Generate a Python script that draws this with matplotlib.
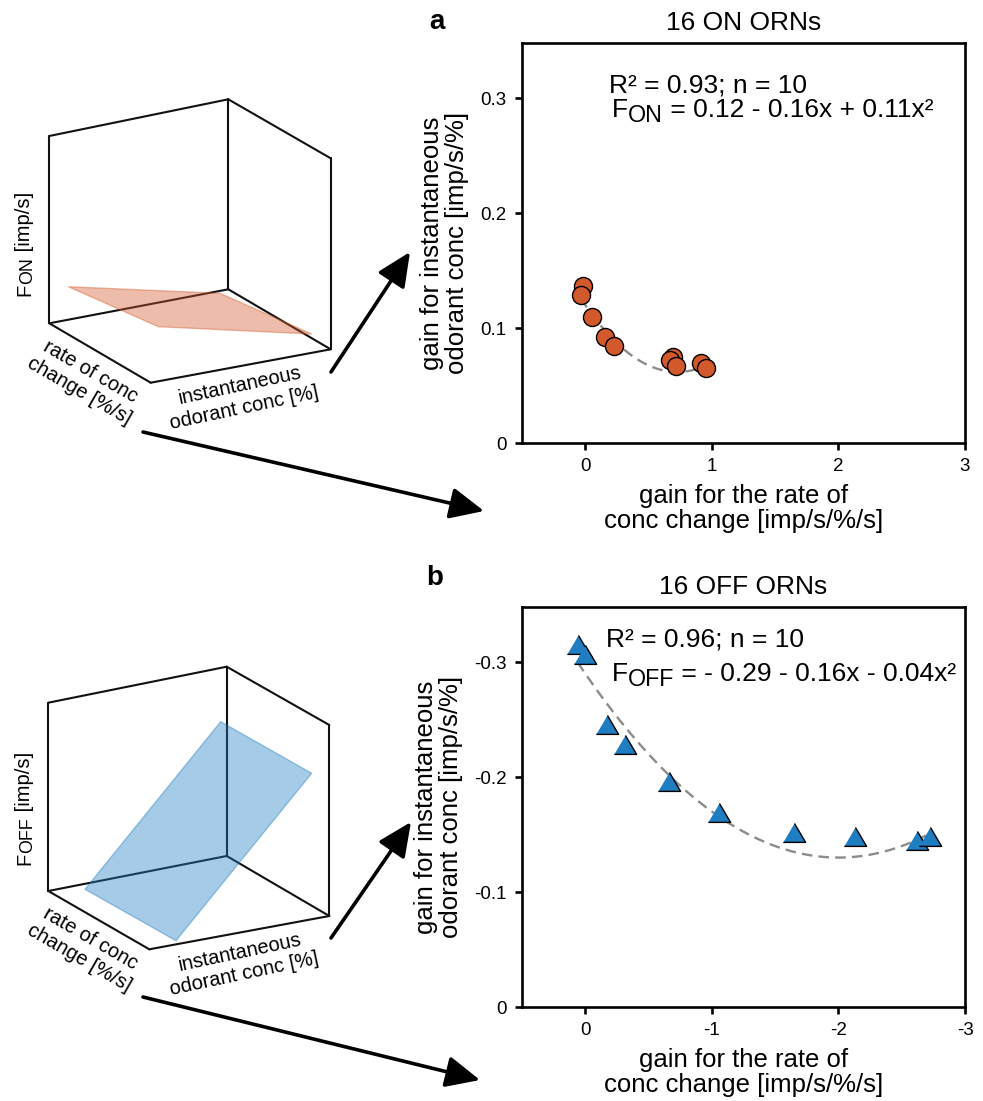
import numpy as np
import matplotlib
matplotlib.use("Agg")
import matplotlib.pyplot as plt
from matplotlib.patches import Polygon
from matplotlib.ticker import FixedLocator, FuncFormatter

plt.rcParams['font.family'] = ['Liberation Sans', 'DejaVu Sans']
plt.rcParams['axes.unicode_minus'] = False

# ---------------- data ----------------
on_x = [-0.02, -0.035, 0.053, 0.156, 0.228, 0.693, 0.672, 0.72, 0.918, 0.95]
on_y = [0.137, 0.129, 0.110, 0.092, 0.084, 0.075, 0.072, 0.067, 0.070, 0.065]
on_coef = [0.12, -0.16, 0.11]          # F_ON = c0 + c1 x + c2 x^2

off_x = [0.06, 0.0, -0.175, -0.31, -0.66, -1.06, -1.65, -2.13, -2.62, -2.72]
off_y = [-0.315, -0.306, -0.245, -0.228, -0.196, -0.169, -0.151, -0.148, -0.144, -0.148]
off_coef = [-0.29, -0.16, -0.04]       # F_OFF = c0 + c1 x + c2 x^2

on_ticks_x = [0, 1, 2, 3]
on_ticks_y = [0, 0.1, 0.2, 0.3]
off_ticks_x = [0, -1, -2, -3]
off_ticks_y = [0, -0.1, -0.2, -0.3]

# schematic 3D boxes (pixel coordinates of the illustration)
box_top = dict(fl_top=(49.3, 136), back_top=(228.3, 99.3), right_top=(330.7, 158.3),
               fl_bot=(49.3, 323.3), back_bot=(228.3, 289.3), right_bot=(330.7, 349.3),
               front_bot=(150.7, 382.7))
plane_top = [(68.3, 286.7), (220, 293.3), (311.7, 334), (158.3, 326.7)]
box_bot = dict(fl_top=(48.3, 702.7), back_top=(226.7, 666.7), right_top=(329.3, 725),
               fl_bot=(48.3, 891), back_bot=(226.7, 856), right_bot=(329.3, 916),
               front_bot=(149.3, 949.3))
plane_bot = [(85, 889.3), (220.7, 721.7), (311.7, 773.3), (176, 940.7)]

W, H = 983, 1101
ORANGE = '#D2592B'
BLUE = '#1F7DC2'

fig = plt.figure(figsize=(W / 100, H / 100), dpi=100)

# overlay for schematic, arrows and free text (pixel coordinates)
ov = fig.add_axes([0, 0, 1, 1])
ov.set_xlim(0, W)
ov.set_ylim(H, 0)
ov.axis('off')


def draw_box(b, plane, fc, ec):
    edges = [('fl_top', 'back_top'), ('back_top', 'right_top'),
             ('fl_top', 'fl_bot'), ('back_top', 'back_bot'), ('right_top', 'right_bot'),
             ('fl_bot', 'back_bot'), ('back_bot', 'right_bot'),
             ('fl_bot', 'front_bot'), ('front_bot', 'right_bot')]
    for a, c in edges:
        ov.plot([b[a][0], b[c][0]], [b[a][1], b[c][1]], color='#111111', lw=1.5,
                solid_capstyle='round', zorder=1)
    ov.add_patch(Polygon(plane, closed=True, facecolor=fc, edgecolor=ec, lw=1.0,
                         alpha=0.40, zorder=2))


draw_box(box_top, plane_top, ORANGE, ORANGE)
draw_box(box_bot, plane_bot, BLUE, BLUE)

LFS = 14.5


def vlabel(x, y_bottom, sub):
    t0 = ov.text(x, y_bottom, 'F', rotation=90, ha='center', va='bottom', fontsize=LFS)
    t1 = ov.annotate(sub, xy=(0.5, 1), xycoords=t0, xytext=(3, 0),
                     textcoords='offset pixels', rotation=90, ha='center', va='bottom',
                     fontsize=LFS * 0.88)
    ov.annotate(' [imp/s]', xy=(0.5, 1), xycoords=t1, xytext=(-3, 0),
                textcoords='offset pixels', rotation=90, ha='center', va='bottom',
                fontsize=LFS)


vlabel(25, 296, 'ON')
vlabel(25, 865, 'OFF')

for dy in [0, 566.6]:
    ov.text(85, 381.4 + dy, 'rate of conc\nchange [%/s]', rotation=-30,
            ha='center', va='center', fontsize=LFS, rotation_mode='anchor',
            multialignment='center')
    ov.text(241.7, 396.7 + dy, 'instantaneous\nodorant conc [%]', rotation=12,
            ha='center', va='center', fontsize=LFS, rotation_mode='anchor',
            multialignment='center')

arrow_kw = dict(arrowstyle='-|>,head_length=1.3,head_width=0.6', lw=2.6,
                color='black', mutation_scale=16, shrinkA=0, shrinkB=0)
for (x0, y0, x1, y1) in [(331, 372, 410, 252), (143, 432, 484, 511),
                         (331, 938, 411, 822), (143, 997, 480, 1080)]:
    ov.annotate('', xy=(x1, y1), xytext=(x0, y0), arrowprops=arrow_kw)

# ---------------- scatter panels ----------------
left = 522 / W
width = (965 - 522) / W
height = 400 / H


def fmt(v, pos):
    return '0' if abs(v) < 1e-9 else f'{v:g}'


def style_ax(ax):
    for s in ax.spines.values():
        s.set_linewidth(1.9)
    ax.tick_params(direction='out', length=5, width=1.9, labelsize=13.5,
                   top=False, right=False, pad=6)
    ax.xaxis.set_major_formatter(FuncFormatter(fmt))
    ax.yaxis.set_major_formatter(FuncFormatter(fmt))


tri = [(-1.0, -0.8), (1.0, -0.8), (0.0, 0.9)]

ax1 = fig.add_axes([left, 1 - 443 / H, width, height])
ax2 = fig.add_axes([left, 1 - 1007 / H, width, height])

# panel a
ax1.set_xlim(-0.5, 3)
ax1.set_ylim(0, 0.348)
xs = np.linspace(min(on_x), max(on_x), 200)
ax1.plot(xs, np.polyval(on_coef[::-1], xs), color='#8C8C8C', lw=1.7,
         linestyle=(0, (4.5, 2.6)), zorder=2)
ax1.plot(on_x, on_y, 'o', ms=13, mfc=ORANGE, mec='black', mew=1.0, zorder=3)
ax1.xaxis.set_major_locator(FixedLocator(on_ticks_x))
ax1.yaxis.set_major_locator(FixedLocator(on_ticks_y))

# panel b
ax2.set_xlim(0.5, -3)
ax2.set_ylim(0, -0.348)
xs = np.linspace(max(off_x), min(off_x), 200)
ax2.plot(xs, np.polyval(off_coef[::-1], xs), color='#8C8C8C', lw=1.7,
         linestyle=(0, (4.5, 2.6)), zorder=2)
ax2.plot(off_x, off_y, marker=tri, ls='none', ms=16, mfc=BLUE, mec='black',
         mew=1.0, zorder=3)
ax2.xaxis.set_major_locator(FixedLocator(off_ticks_x))
ax2.yaxis.set_major_locator(FixedLocator(off_ticks_y))

for ax, title in [(ax1, '16 ON ORNs'), (ax2, '16 OFF ORNs')]:
    style_ax(ax)
    ax.set_title(title, fontsize=19, pad=9)
    ax.set_xlabel('gain for the rate of\nconc change [imp/s/%/s]', fontsize=18.5,
                  labelpad=6, linespacing=1.05)
    ax.set_ylabel('gain for instantaneous\nodorant conc [imp/s/%]', fontsize=18.5,
                  labelpad=8, linespacing=1.05)

# annotations
FS = 19


def equation(ax, x, y, sub, rest):
    t0 = ax.text(x, y, 'F', transform=ax.transAxes, fontsize=FS, va='baseline', ha='left')
    t1 = ax.annotate(sub, xy=(1, 0), xycoords=t0, xytext=(0, -5),
                     textcoords='offset pixels', fontsize=FS * 0.88, va='bottom', ha='left')
    ax.annotate(rest, xy=(1, 0), xycoords=t1, xytext=(0, 5),
                textcoords='offset pixels', fontsize=FS, va='bottom', ha='left')


ax1.text((609 - 522) / 443, (443 - 92) / 400, 'R² = 0.93; n = 10', transform=ax1.transAxes,
         fontsize=FS, va='baseline', ha='left')
equation(ax1, (612 - 522) / 443, (443 - 117) / 400, 'ON', ' = 0.12 - 0.16x + 0.11x²')
ax2.text((606 - 522) / 443, (1007 - 646) / 400, 'R² = 0.96; n = 10', transform=ax2.transAxes,
         fontsize=FS, va='baseline', ha='left')
equation(ax2, (612 - 522) / 443, (1007 - 681) / 400, 'OFF', ' = - 0.29 - 0.16x - 0.04x²')

fig.text(437 / W, 1 - 22 / H, 'a', fontsize=20, fontweight='bold', ha='center', va='center')
fig.text(435 / W, 1 - 578 / H, 'b', fontsize=20, fontweight='bold', ha='center', va='center')

fig.savefig('out.png', dpi=100)
